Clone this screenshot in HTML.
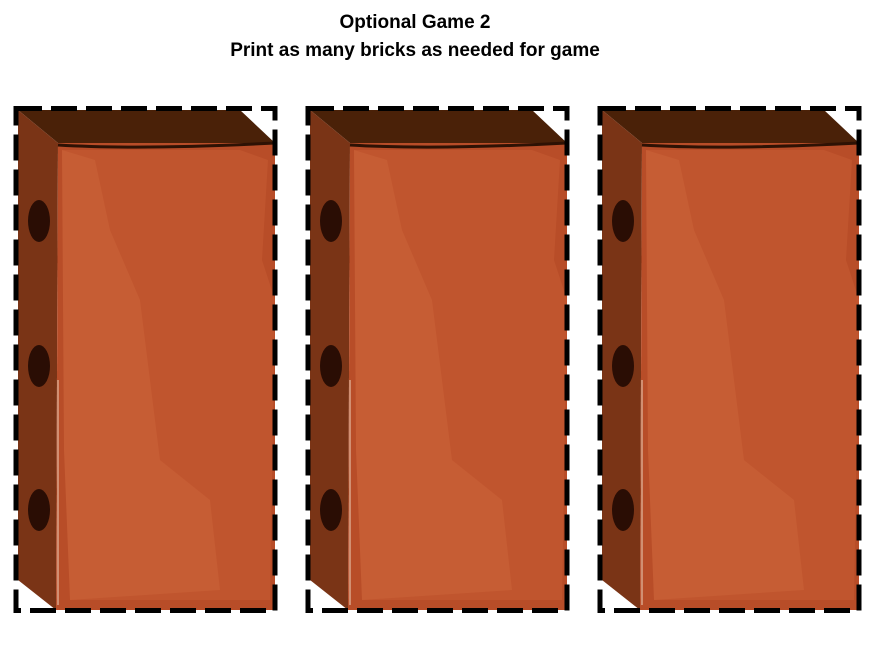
<!DOCTYPE html>
<html><head><style>
body{margin:0;background:#fff;width:882px;height:649px;overflow:hidden;font-family:"Liberation Sans",sans-serif}
.t{position:absolute;left:0;width:830px;text-align:center;font-weight:bold;font-size:19px;color:#000}
</style></head><body>
<div class="t" style="top:12px">Optional Game 2</div>
<div class="t" style="top:40px">Print as many bricks as needed for game</div>
<svg width="882" height="649" style="position:absolute;left:0;top:0">
<defs>
<g id="b">
<polygon points="18,110 240,110 275,143 58,143" fill="#4a2108"/>
<polygon points="18,110 58,143 56,610 18,580" fill="#7a3416"/>
<polygon points="58,143 275,143 275,610 56,610" fill="#b84d28"/>
<polygon points="62,150 240,150 268,160 262,260 275,300 270,600 70,600" fill="#c0552e"/>
<polygon points="62,150 95,160 110,230 140,300 160,460 210,500 220,590 70,600 64,450" fill="#c65d34"/>
<path d="M58,145 Q140,150 275,143" stroke="#2e1204" stroke-width="3" fill="none"/>
<ellipse cx="39" cy="221" rx="11" ry="21" fill="#2a0d04"/>
<ellipse cx="39" cy="366" rx="11" ry="21" fill="#2a0d04"/>
<ellipse cx="39" cy="510" rx="11" ry="21" fill="#2a0d04"/>
<line x1="58" y1="380" x2="58" y2="605" stroke="#d9a58a" stroke-width="1.5"/>
<rect x="16" y="108.5" width="259" height="502" fill="none" stroke="#000" stroke-width="5" stroke-dasharray="26 9"/>
</g>
</defs>
<use href="#b"/>
<use href="#b" x="292"/>
<use href="#b" x="584"/>
</svg>
</body></html>
